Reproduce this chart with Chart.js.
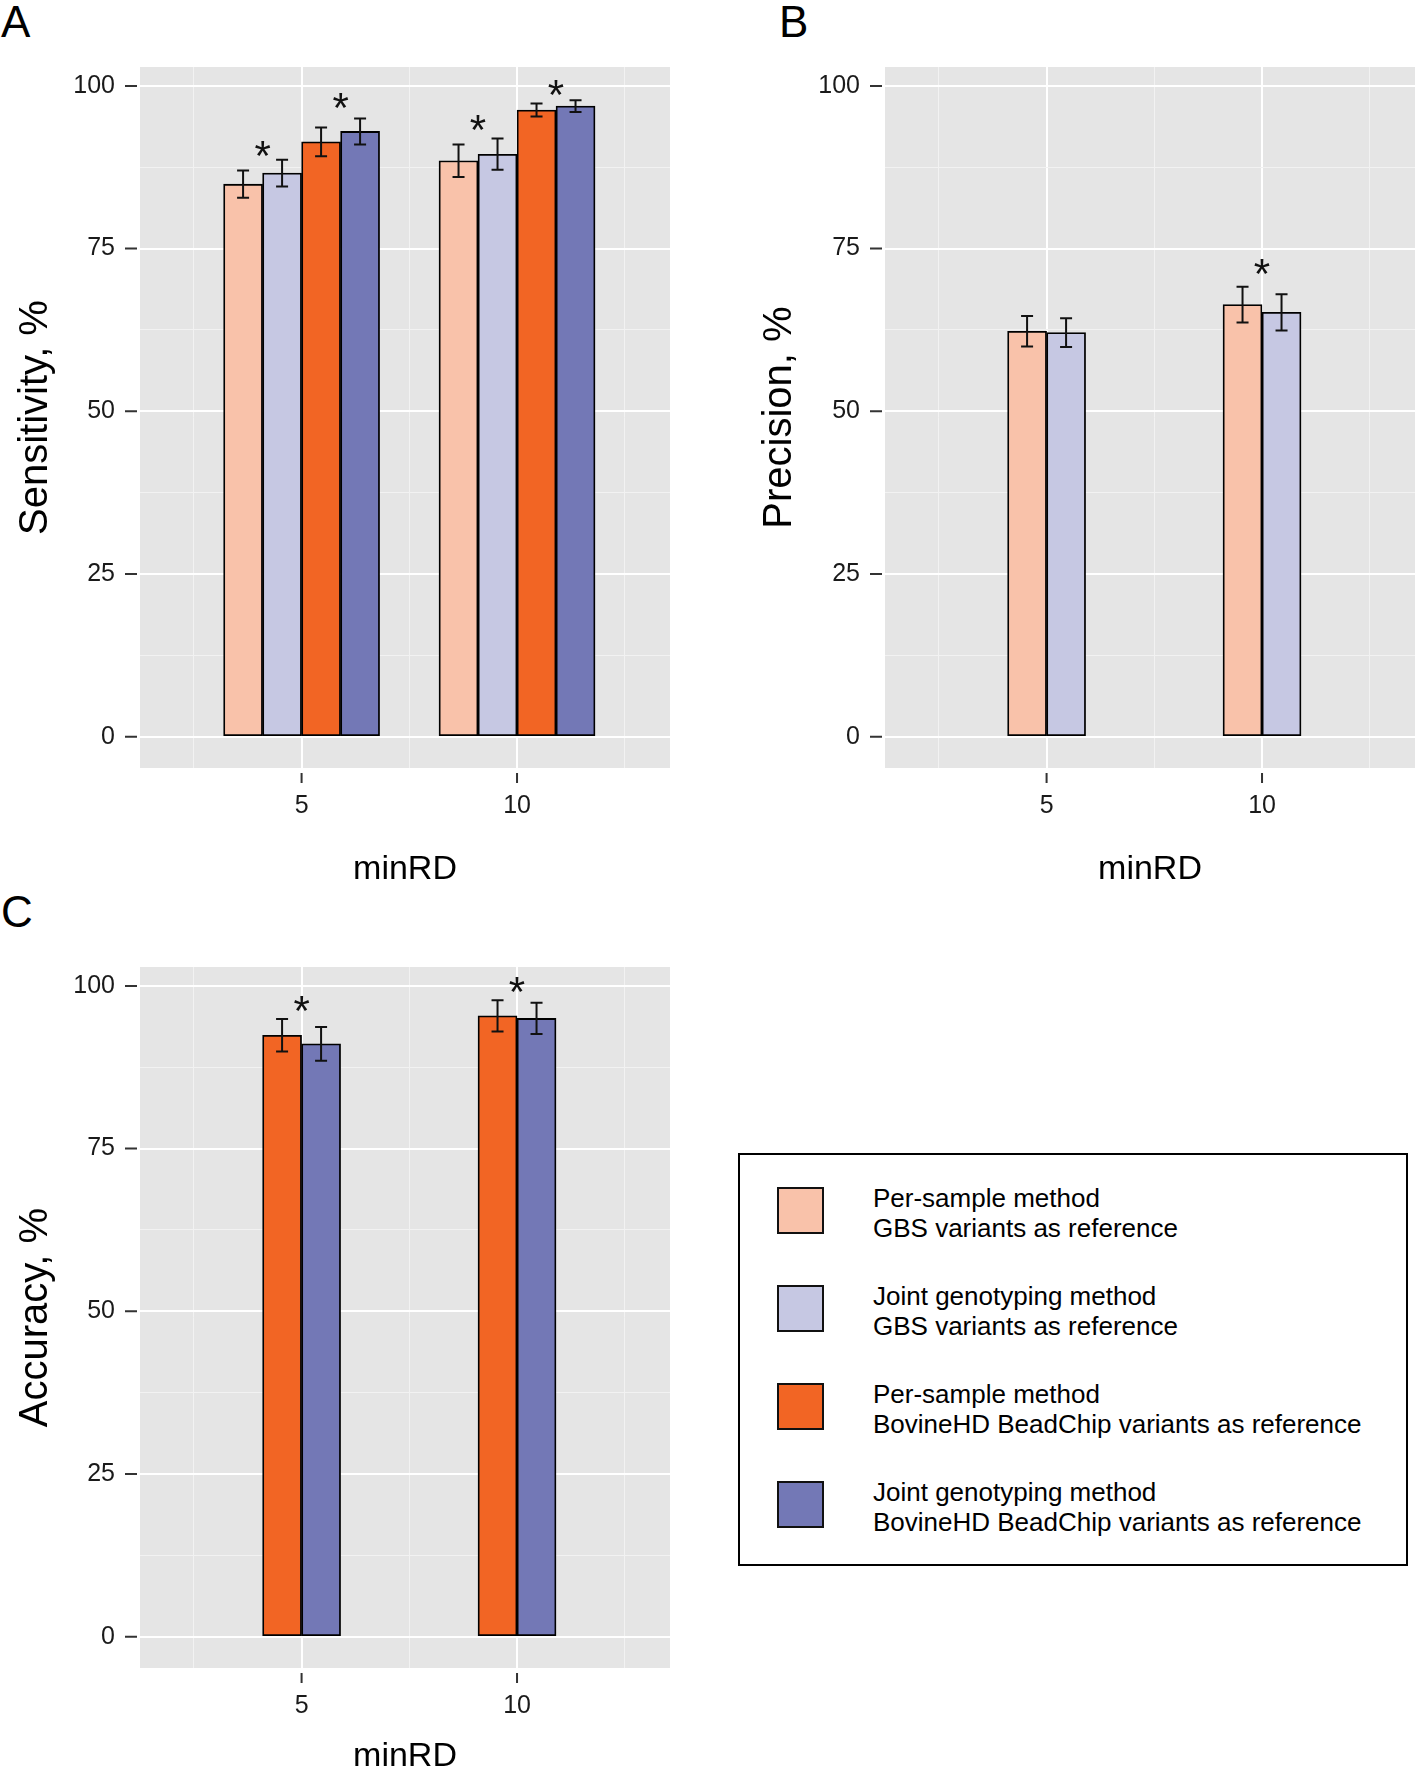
<!DOCTYPE html>
<html>
<head>
<meta charset="utf-8">
<script src="https://cdn.jsdelivr.net/npm/chart.js@4.4.0/dist/chart.umd.min.js"></script>
<style>
  html, body { margin: 0; padding: 0; background: #fff; width: 1418px; height: 1773px; overflow: hidden; }
  body { position: relative; font-family: "Liberation Sans", Arial, Helvetica, sans-serif; color: #000; }
  canvas { position: absolute; }
  .tag { position: absolute; font-size: 44px; line-height: 44px; }
  #legend { position: absolute; left: 738px; top: 1153px; width: 670px; height: 413px; box-sizing: border-box; border: 2px solid #000; }
  .key { position: absolute; left: 37px; width: 47px; height: 47px; box-sizing: border-box; border: 2.5px solid #111; }
  .ltext { position: absolute; left: 133px; font-size: 26px; line-height: 30px; white-space: nowrap; }
</style>
</head>
<body>
<div class="tag" style="left:1px;top:0px">A</div>
<div class="tag" style="left:779px;top:0px">B</div>
<div class="tag" style="left:1px;top:890px">C</div>
<canvas id="chartA" width="700" height="900" style="left:0px;top:0px"></canvas>
<canvas id="chartB" width="718" height="900" style="left:700px;top:0px"></canvas>
<canvas id="chartC" width="700" height="913" style="left:0px;top:880px"></canvas>
<div id="legend"></div>
<script>
// x categories (minRD) and axis ticks
const minRD = [5, 10];
const xMajor = [5, 10];
const xMinor = [2.5, 7.5, 12.5];
const yMajor = [0, 25, 50, 75, 100];
const yMinor = [12.5, 37.5, 62.5, 87.5];

// legend
const seriesLabels = [
  ['Per-sample method', 'GBS variants as reference'],
  ['Joint genotyping method', 'GBS variants as reference'],
  ['Per-sample method', 'BovineHD BeadChip variants as reference'],
  ['Joint genotyping method', 'BovineHD BeadChip variants as reference']
];
const seriesColors = ['#F9C2AA', '#C6C8E3', '#F26524', '#7378B6'];

// A: sensitivity
const sensPerSampleGBS = [84.9, 88.5];
const sensPerSampleGBSErr = [2.1, 2.5];
const sensJointGBS = [86.6, 89.5];
const sensJointGBSErr = [2.05, 2.4];
const sensPerSampleHD = [91.4, 96.3];
const sensPerSampleHDErr = [2.2, 1.0];
const sensJointHD = [93.0, 96.9];
const sensJointHDErr = [2.0, 0.9];
// [minRD, left series of the pair, height of *]
const sensStars = [[5, 0, 90.8], [5, 2, 98.1], [10, 0, 94.7], [10, 2, 100.1]];

// B: precision
const precPerSampleGBS = [62.3, 66.4];
const precPerSampleGBSErr = [2.35, 2.75];
const precJointGBS = [62.1, 65.2];
const precJointGBSErr = [2.2, 2.8];
const precStars = [[10, 0, 72.6]];

// C: accuracy
const accPerSampleHD = [92.4, 95.4];
const accPerSampleHDErr = [2.5, 2.4];
const accJointHD = [91.1, 95.0];
const accJointHDErr = [2.6, 2.4];
const accStars = [[5, 0, 97.6], [10, 0, 100.6]];

const FONT = '"Liberation Sans", Arial, Helvetica, sans-serif';
const yMin = -4.8, yMax = 102.9;
const xMin = 1.25, xMax = 13.55;

function bars(values, errs, color) {
  return {
    data: minRD.map((x, i) => ({x: x, y: values[i]})),
    errors: errs,
    backgroundColor: color,
    borderColor: '#000',
    borderWidth: 1.8,
    borderSkipped: false,
    barThickness: 39
  };
}

const panelPlugin = {
  id: 'panel',
  beforeDraw(chart) {
    const {ctx, chartArea: a} = chart;
    ctx.save();
    ctx.fillStyle = '#E5E5E5';
    ctx.fillRect(a.left, a.top, a.right - a.left, a.bottom - a.top);
    ctx.restore();
  },
  afterDatasetsDraw(chart, args, opts) {
    const ctx = chart.ctx;
    const y = chart.scales.y;
    ctx.save();
    ctx.strokeStyle = '#111';
    ctx.lineWidth = 2;
    chart.data.datasets.forEach((ds, i) => {
      chart.getDatasetMeta(i).data.forEach((bar, j) => {
        const v = ds.data[j].y, e = ds.errors[j];
        const top = y.getPixelForValue(v + e), bot = y.getPixelForValue(v - e);
        ctx.beginPath();
        ctx.moveTo(bar.x, top); ctx.lineTo(bar.x, bot);
        ctx.moveTo(bar.x - 6, top); ctx.lineTo(bar.x + 6, top);
        ctx.moveTo(bar.x - 6, bot); ctx.lineTo(bar.x + 6, bot);
        ctx.stroke();
      });
    });
    // significance stars between pairs
    ctx.fillStyle = '#111';
    ctx.font = '42px ' + FONT;
    ctx.textAlign = 'center';
    ctx.textBaseline = 'alphabetic';
    opts.stars.forEach(([rd, d, h]) => {
      const j = minRD.indexOf(rd);
      const b1 = chart.getDatasetMeta(d).data[j], b2 = chart.getDatasetMeta(d + 1).data[j];
      ctx.fillText('*', (b1.x + b2.x) / 2, y.getPixelForValue(h) + 24);
    });
    ctx.restore();
  },
  afterDraw(chart) {
    const {ctx, chartArea: a} = chart;
    const x = chart.scales.x, y = chart.scales.y;
    ctx.save();
    ctx.strokeStyle = '#333';
    ctx.lineWidth = 2;
    ctx.beginPath();
    yMajor.forEach(v => {
      const py = y.getPixelForValue(v);
      ctx.moveTo(a.left - 15, py); ctx.lineTo(a.left - 3, py);
    });
    xMajor.forEach(v => {
      const px = x.getPixelForValue(v);
      ctx.moveTo(px, a.bottom + 5); ctx.lineTo(px, a.bottom + 15);
    });
    ctx.stroke();
    ctx.restore();
  }
};

function gridColor(c) { return c.tick && xMinor.concat(yMinor).includes(c.tick.value) ? '#F2F2F2' : '#FFFFFF'; }
function gridWidth(c) { return c.tick && xMinor.concat(yMinor).includes(c.tick.value) ? 1 : 2; }

function makePanel(id, p) {
  const canvas = document.getElementById(id);
  return new Chart(canvas, {
    type: 'bar',
    data: { datasets: p.datasets },
    plugins: [panelPlugin],
    options: {
      responsive: false,
      animation: false,
      events: [],
      layout: { padding: { left: 0, top: p.padTop, right: p.padRight, bottom: 0 } },
      plugins: {
        legend: { display: false },
        tooltip: { enabled: false },
        panel: { stars: p.stars }
      },
      scales: {
        x: {
          type: 'linear', min: xMin, max: xMax, offset: false,
          afterBuildTicks: s => { s.ticks = xMinor.concat(xMajor).sort((a, b) => a - b).map(v => ({value: v})); },
          afterFit: s => { s.height = p.xHeight; },
          ticks: {
            callback: v => xMajor.includes(v) ? String(v) : '',
            autoSkip: false, maxRotation: 0, padding: 23,
            font: { size: 25, family: FONT }, color: '#1a1a1a'
          },
          grid: { offset: false, drawTicks: false, color: gridColor, lineWidth: gridWidth },
          border: { display: false },
          title: { display: true, text: 'minRD', color: '#000', font: { size: 34, family: FONT }, padding: { top: 0, bottom: p.xTitlePad } }
        },
        y: {
          type: 'linear', min: yMin, max: yMax,
          afterBuildTicks: s => { s.ticks = yMinor.concat(yMajor).sort((a, b) => a - b).map(v => ({value: v})); },
          afterFit: s => { s.width = p.yWidth; },
          ticks: {
            callback: v => yMajor.includes(v) ? String(v) : '',
            autoSkip: false, padding: 25,
            font: { size: 25, family: FONT }, color: '#1a1a1a'
          },
          grid: { drawTicks: false, color: gridColor, lineWidth: gridWidth },
          border: { display: false },
          title: { display: true, text: p.yTitle, color: '#000', font: { size: 40, family: FONT }, padding: { top: p.yTitlePad, bottom: 0 } }
        }
      }
    }
  });
}

makePanel('chartA', {
  datasets: [
    bars(sensPerSampleGBS, sensPerSampleGBSErr, seriesColors[0]),
    bars(sensJointGBS, sensJointGBSErr, seriesColors[1]),
    bars(sensPerSampleHD, sensPerSampleHDErr, seriesColors[2]),
    bars(sensJointHD, sensJointHDErr, seriesColors[3])
  ],
  stars: sensStars,
  yTitle: 'Sensitivity, %',
  padTop: 67, padRight: 30, yWidth: 140, xHeight: 132,
  yTitlePad: 12, xTitlePad: 10
});

makePanel('chartB', {
  datasets: [
    bars(precPerSampleGBS, precPerSampleGBSErr, seriesColors[0]),
    bars(precJointGBS, precJointGBSErr, seriesColors[1])
  ],
  stars: precStars,
  yTitle: 'Precision, %',
  padTop: 67, padRight: 3, yWidth: 185, xHeight: 132,
  yTitlePad: 56, xTitlePad: 10
});

makePanel('chartC', {
  datasets: [
    bars(accPerSampleHD, accPerSampleHDErr, seriesColors[2]),
    bars(accJointHD, accJointHDErr, seriesColors[3])
  ],
  stars: accStars,
  yTitle: 'Accuracy, %',
  padTop: 87, padRight: 30, yWidth: 140, xHeight: 125,
  yTitlePad: 12, xTitlePad: 16
});

// legend box
const legend = document.getElementById('legend');
seriesLabels.forEach((lines, i) => {
  const key = document.createElement('div');
  key.className = 'key';
  key.style.top = (32 + 98 * i) + 'px';
  key.style.background = seriesColors[i];
  legend.appendChild(key);
  const txt = document.createElement('div');
  txt.className = 'ltext';
  txt.style.top = (28 + 98 * i) + 'px';
  txt.innerHTML = lines.join('<br>');
  legend.appendChild(txt);
});
</script>
</body>
</html>
